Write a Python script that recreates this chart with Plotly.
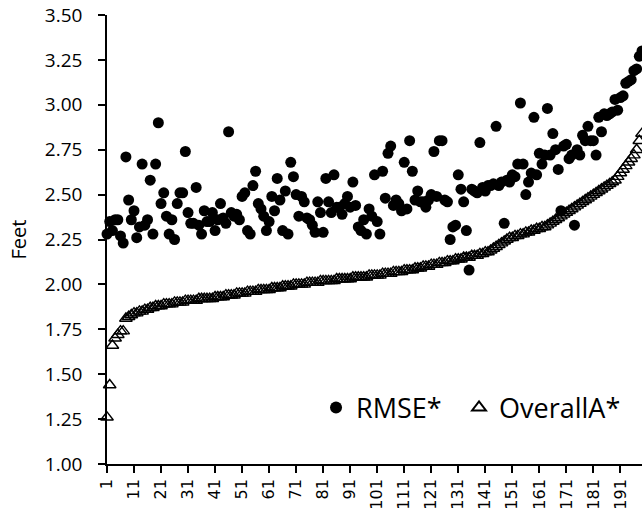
import plotly.graph_objects as go

rmse = [2.28, 2.35, 2.30, 2.36, 2.36, 2.27, 2.23, 2.71, 2.47, 2.36,
        2.41, 2.26, 2.32, 2.67, 2.33, 2.36, 2.58, 2.28, 2.67, 2.90,
        2.45, 2.51, 2.38, 2.28, 2.36, 2.25, 2.45, 2.51, 2.51, 2.74,
        2.40, 2.34, 2.34, 2.54, 2.33, 2.28, 2.41, 2.35, 2.35, 2.40,
        2.30, 2.36, 2.45, 2.37, 2.34, 2.85, 2.40, 2.38, 2.39, 2.36,
        2.49, 2.51, 2.30, 2.28, 2.55, 2.63, 2.45, 2.42, 2.38, 2.30,
        2.35, 2.49, 2.41, 2.59, 2.47, 2.30, 2.52, 2.28, 2.68, 2.60,
        2.50, 2.38, 2.49, 2.46, 2.37, 2.36, 2.33, 2.29, 2.46, 2.40,
        2.29, 2.59, 2.46, 2.40, 2.61, 2.43, 2.43, 2.39, 2.45, 2.49,
        2.43, 2.57, 2.44, 2.32, 2.30, 2.36, 2.28, 2.42, 2.38, 2.61,
        2.35, 2.28, 2.63, 2.48, 2.73, 2.77, 2.44, 2.47, 2.45, 2.41,
        2.68, 2.42, 2.80, 2.63, 2.47, 2.52, 2.46, 2.46, 2.43, 2.47,
        2.50, 2.74, 2.49, 2.80, 2.80, 2.47, 2.46, 2.25, 2.32, 2.33,
        2.61, 2.53, 2.46, 2.30, 2.08, 2.53, 2.52, 2.51, 2.79, 2.54,
        2.52, 2.55, 2.55, 2.56, 2.88, 2.55, 2.57, 2.34, 2.58, 2.57,
        2.61, 2.60, 2.67, 3.01, 2.67, 2.50, 2.57, 2.62, 2.93, 2.61,
        2.73, 2.67, 2.72, 2.98, 2.72, 2.84, 2.75, 2.64, 2.41, 2.77,
        2.78, 2.70, 2.72, 2.33, 2.75, 2.72, 2.83, 2.80, 2.88, 2.80,
        2.80, 2.72, 2.93, 2.85, 2.95, 2.94, 2.95, 2.96, 3.03, 2.97,
        3.04, 3.05, 3.12, 3.13, 3.14, 3.19, 3.20, 3.27, 3.30]

overall = [1.26, 1.44, 1.66, 1.70, 1.72, 1.74, 1.74, 1.81, 1.82, 1.83,
           1.84, 1.84, 1.85, 1.85, 1.86, 1.86, 1.87, 1.87, 1.88, 1.88,
           1.88, 1.89, 1.89, 1.89, 1.89, 1.90, 1.90, 1.90, 1.90, 1.91,
           1.91, 1.91, 1.91, 1.91, 1.92, 1.92, 1.92, 1.92, 1.92, 1.92,
           1.93, 1.93, 1.93, 1.93, 1.94, 1.94, 1.94, 1.94, 1.95, 1.95,
           1.95, 1.95, 1.96, 1.96, 1.96, 1.96, 1.97, 1.97, 1.97, 1.97,
           1.97, 1.98, 1.98, 1.98, 1.98, 1.99, 1.99, 1.99, 1.99, 2.00,
           2.00, 2.00, 2.00, 2.00, 2.01, 2.01, 2.01, 2.01, 2.01, 2.02,
           2.02, 2.02, 2.02, 2.02, 2.02, 2.03, 2.03, 2.03, 2.03, 2.03,
           2.03, 2.04, 2.04, 2.04, 2.04, 2.04, 2.04, 2.05, 2.05, 2.05,
           2.05, 2.05, 2.06, 2.06, 2.06, 2.06, 2.07, 2.07, 2.07, 2.07,
           2.08, 2.08, 2.08, 2.08, 2.09, 2.09, 2.09, 2.10, 2.10, 2.10,
           2.11, 2.11, 2.11, 2.12, 2.12, 2.12, 2.13, 2.13, 2.13, 2.14,
           2.14, 2.14, 2.15, 2.15, 2.15, 2.16, 2.16, 2.16, 2.17, 2.17,
           2.18, 2.18, 2.19, 2.20, 2.21, 2.22, 2.23, 2.24, 2.25, 2.26,
           2.26, 2.27, 2.27, 2.28, 2.28, 2.29, 2.29, 2.30, 2.30, 2.31,
           2.31, 2.32, 2.32, 2.33, 2.34, 2.35, 2.36, 2.37, 2.38, 2.39,
           2.40, 2.41, 2.42, 2.43, 2.44, 2.45, 2.46, 2.47, 2.48, 2.49,
           2.50, 2.51, 2.52, 2.53, 2.54, 2.55, 2.56, 2.57, 2.58, 2.60,
           2.62, 2.64, 2.66, 2.68, 2.70, 2.72, 2.75, 2.80, 2.84]

x_index = list(range(1, len(rmse) + 1))
x_tick_vals = list(range(1, 192, 10))
x_tick_text = [str(v) for v in x_tick_vals]
y_tick_vals = [1.00, 1.25, 1.50, 1.75, 2.00, 2.25, 2.50, 2.75, 3.00, 3.25, 3.50]
y_tick_text = ["%.2f" % v for v in y_tick_vals]

fig = go.Figure()
fig.add_trace(go.Scatter(
    x=x_index, y=rmse, mode="markers", name="RMSE*",
    marker=dict(symbol="circle", size=11, color="black"),
    cliponaxis=False, legend="legend",
))
fig.add_trace(go.Scatter(
    x=x_index, y=overall, mode="markers", name="OverallA*",
    marker=dict(symbol="triangle-up-open", size=11, color="black",
                line=dict(width=1.4, color="black")),
    cliponaxis=False, legend="legend2",
))

legend_font = dict(family="Open Sans", size=27, color="black")
fig.update_layout(
    width=642, height=519,
    margin=dict(l=107, r=0, t=15, b=55, autoexpand=False),
    paper_bgcolor="white", plot_bgcolor="white",
    showlegend=True,
    legend=dict(orientation="h", x=0.3907, y=0.125, xanchor="left", yanchor="middle",
                font=legend_font, bgcolor="rgba(0,0,0,0)", itemsizing="constant"),
    legend2=dict(orientation="h", x=0.658, y=0.125, xanchor="left", yanchor="middle",
                 font=legend_font, bgcolor="rgba(0,0,0,0)", itemsizing="constant"),
    font=dict(family="Open Sans", color="black"),
    annotations=[dict(text="Feet", xref="paper", yref="paper", x=-0.1645, y=0.5,
                      xanchor="center", yanchor="middle", textangle=-90, showarrow=False,
                      font=dict(family="Open Sans", size=20, color="black"))],
)
fig.update_xaxes(
    range=[1, 199], tickmode="array", tickvals=x_tick_vals, ticktext=x_tick_text,
    tickangle=-90, showline=True, linecolor="black", linewidth=1.5,
    ticks="outside", ticklen=7, tickcolor="black", tickwidth=1.5,
    showgrid=False, zeroline=False, automargin=False,
    tickfont=dict(family="DejaVu Sans", size=16, color="black"),
)
fig.update_yaxes(
    range=[1, 3.5], tickmode="array", tickvals=y_tick_vals, ticktext=y_tick_text,
    showline=True, linecolor="black", linewidth=1.5,
    ticks="outside", ticklen=7, tickcolor="black", tickwidth=1.5,
    showgrid=False, zeroline=False, automargin=False, ticklabelstandoff=12,
    tickfont=dict(family="Open Sans", size=19, color="black"),
)

fig.write_html(
    "out.html",
    config={"displayModeBar": False},
    post_script="document.body.style.margin='0';document.body.style.overflow='hidden';",
)
